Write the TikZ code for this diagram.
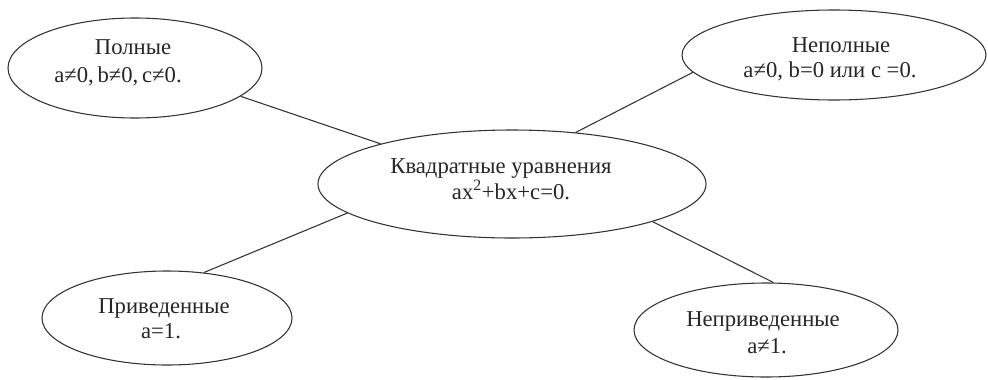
\documentclass[tikz,border=0pt]{standalone}
\usepackage{fontspec}
\setmainfont{Liberation Serif}
\usetikzlibrary{shapes.geometric}
\begin{document}
\begin{tikzpicture}[x=0.75pt,y=-0.75pt,
  oval/.style={draw=black!80,line width=0.8pt,ellipse,inner sep=0pt},
  txt/.style={anchor=base,inner sep=0pt,font=\fontsize{17}{20}\selectfont,text=black!85},
  link/.style={draw=black!80,line width=0.8pt}]
\useasboundingbox[fill=white] (0,0) rectangle (988,379);
% ellipses
\node[oval,minimum width=190.5pt,minimum height=75pt] (tl) at (135,68) {};
\node[oval,minimum width=228pt,minimum height=67.5pt] (tr) at (834,55) {};
\node[oval,minimum width=291pt,minimum height=81pt] (c) at (512,184) {};
\node[oval,minimum width=187.5pt,minimum height=70.5pt] (bl) at (167,318) {};
\node[oval,minimum width=198pt,minimum height=70.5pt] (br) at (766,330) {};
% texts
\node[txt] (tl1) at (133,54) {Полные};
\node[txt] (tl2) at (118,82) {a≠0,\,b≠0,\,c≠0.};
\node[txt] (tr1) at (841,52) {Неполные};
\node[txt] (tr2) at (830,77) {a≠0, b=0 или c =0.};
\node[txt] (c1) at (501,173) {Квадратные уравнения};
\node[txt] (c2) at (511,199) {ax\textsuperscript{2}+bx+c=0.};
\node[txt] (bl1) at (164,313) {Приведенные};
\node[txt] (bl2) at (161,338) {a=1.};
\node[txt] (br1) at (763,326) {Неприведенные};
\node[txt] (br2) at (767,353) {a≠1.};
% connectors
\draw[link] (tl.-15.9) -- (c.163.9);
\draw[link] (tr.187.7) -- (c.39.3);
\draw[link] (bl.51.6) -- (c.190.6);
\draw[link] (br.81.5) -- (c.-15.3);
\end{tikzpicture}
\end{document}
